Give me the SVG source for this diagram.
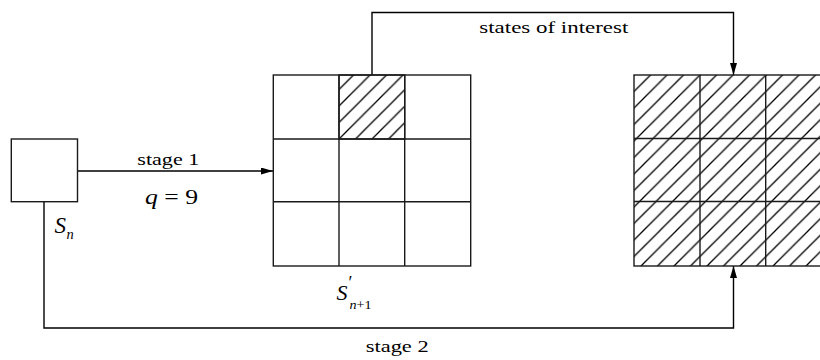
<svg xmlns="http://www.w3.org/2000/svg" width="820" height="360" viewBox="0 0 820 360">
  <defs>
    <pattern id="hatch" patternUnits="userSpaceOnUse" x="-0.5" y="0" width="16.5" height="16.5">
      <path d="M-2,18.5 L18.5,-2 M-2,2 L2,-2 M14.5,18.5 L18.5,14.5" stroke="#000" stroke-width="1.3" fill="none"/>
    </pattern>
    <marker id="arrow" viewBox="0 0 12 7" refX="12" refY="3.5" markerWidth="12" markerHeight="7" markerUnits="userSpaceOnUse" orient="auto">
      <path d="M0,0 L12,3.5 L0,7 Z" fill="#000"/>
    </marker>
  </defs>
  <style>
    .box { fill: #fff; stroke: #1a1a1a; stroke-width: 1.4; }
    .hat { fill: url(#hatch); stroke: #1a1a1a; stroke-width: 1.4; }
    .grid { fill: none; stroke: #1a1a1a; stroke-width: 1.4; }
    .conn { fill: none; stroke: #000; stroke-width: 1.4; }
    .lbl { font-family: "Liberation Serif", "Times New Roman", serif; font-size: 17.5px; fill: #000; }
    .math { font-family: "Liberation Serif", "Times New Roman", serif; fill: #000; }
    .it { font-style: italic; }
  </style>
  <rect width="820" height="360" fill="#fff"/>

  <g id="connectors">
    <path class="conn" d="M77.5,171 L273,171" marker-end="url(#arrow)"/>
    <path class="conn" d="M372,75 L372,12.5 L733.5,12.5 L733.5,75" marker-end="url(#arrow)"/>
    <path class="conn" d="M44,202 L44,328 L733.5,328 L733.5,266" marker-end="url(#arrow)"/>
  </g>

  <g id="node-sn">
    <rect class="box" x="11.3" y="139" width="66.2" height="62.7"/>
    <text class="math it" x="54.5" y="232.5" font-size="23">S</text>
    <text class="math it" x="66.5" y="239" font-size="14.5">n</text>
  </g>

  <g id="node-grid-stage1">
    <rect class="box" x="273.3" y="75" width="197.4" height="191"/>
    <rect class="hat" x="339" y="75" width="65.7" height="64"/>
    <path class="grid" d="M339,75 V266 M404.7,75 V266 M273.3,139 H470.7 M273.3,201.7 H470.7"/>
    <text class="math it" x="336.5" y="299.5" font-size="22">S</text>
    <text class="math" x="348.5" y="289" font-size="18">′</text>
    <text class="math" x="349.5" y="309" font-size="12.5" textLength="22" lengthAdjust="spacingAndGlyphs"><tspan class="it">n</tspan>+1</text>
  </g>

  <g id="node-grid-stage2">
    <rect class="hat" x="634" y="75" width="198" height="191"/>
    <path class="grid" d="M700,75 V266 M765.7,75 V266 M634,138.5 H832 M634,201.5 H832"/>
  </g>

  <g id="labels">
    <text class="lbl" x="479.3" y="32.5" textLength="149" lengthAdjust="spacingAndGlyphs">states of interest</text>
    <text class="lbl" x="137.3" y="165" textLength="62" lengthAdjust="spacingAndGlyphs">stage 1</text>
    <text class="math" x="145" y="203.5" font-size="21" textLength="53" lengthAdjust="spacingAndGlyphs"><tspan class="it">q</tspan> = 9</text>
    <text class="lbl" x="365.7" y="352" textLength="63" lengthAdjust="spacingAndGlyphs">stage 2</text>
  </g>
</svg>
